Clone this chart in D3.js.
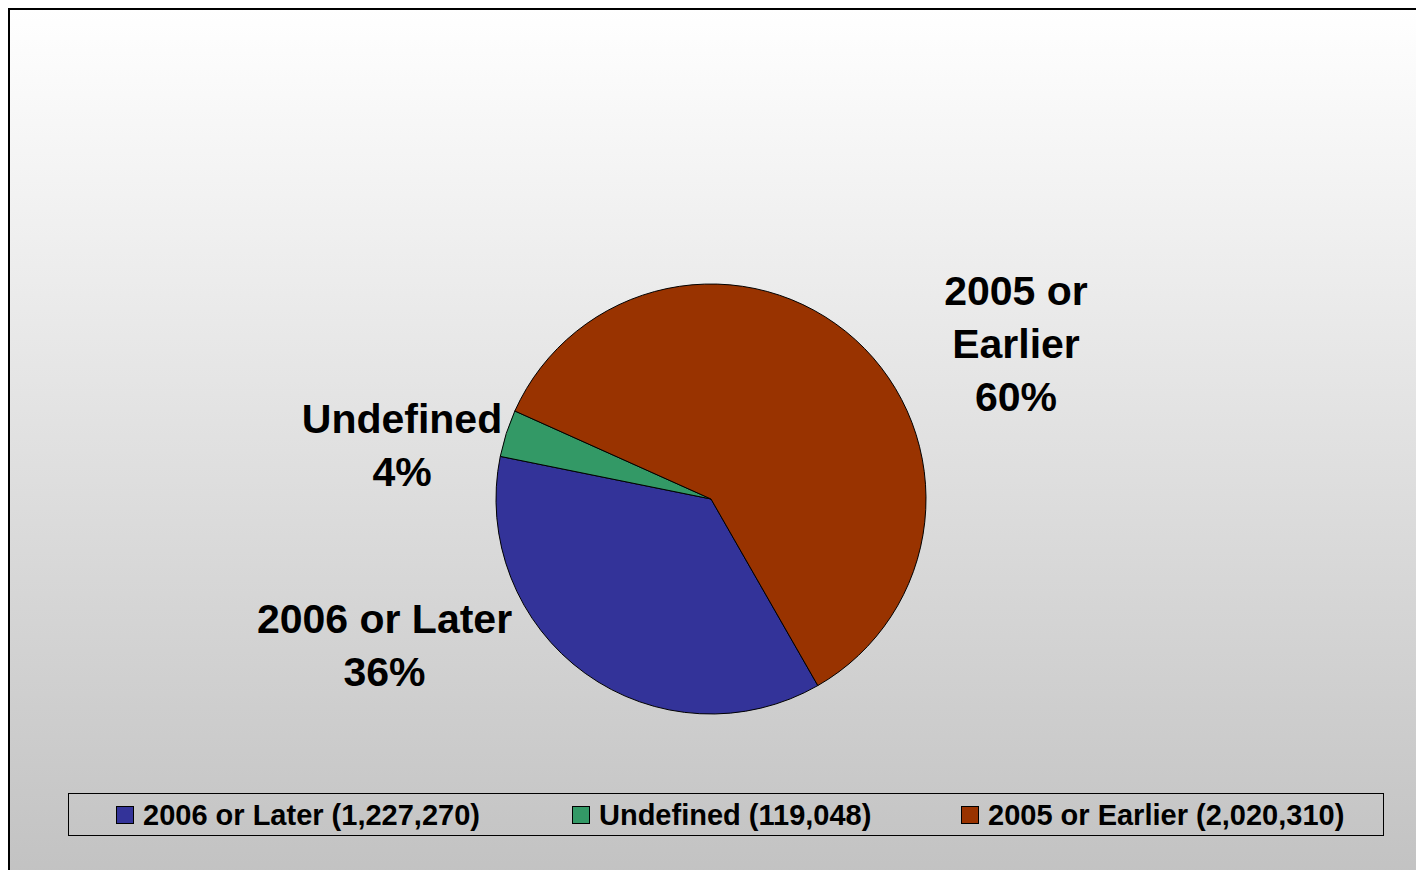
<!DOCTYPE html>
<html>
<head>
<meta charset="utf-8">
<script src="https://cdn.jsdelivr.net/npm/d3@7"></script>
<style>
  html, body { margin: 0; padding: 0; background: #ffffff; }
  svg { display: block; }
  text { font-family: "Liberation Sans", Arial, sans-serif; font-weight: bold; fill: #000; }
</style>
</head>
<body>
<svg id="chart" width="1416" height="870"></svg>
<script>
// ---- data ----
const categories = ["2006 or Later", "Undefined", "2005 or Earlier"];
const values = [1227270, 119048, 2020310];
const colors = ["#333399", "#339966", "#993300"];
const percentLabels = ["36%", "4%", "60%"];
const labelLines = [["2006 or Later"], ["Undefined"], ["2005 or", "Earlier"]];

// ---- layout ----
const W = 1416, H = 870;
const cx = 711, cy = 499, R = 215;
const startAngleDeg = 150.2;
// label centres relative to pie centre (first line baseline)
const labelPos = [
  { dx: 384.5 - cx, dy: 633 - cy },
  { dx: 402 - cx, dy: 433 - cy },
  { dx: 1016 - cx, dy: 305 - cy }
];
const lineH = 53;

const svg = d3.select("#chart");
const defs = svg.append("defs");
const grad = defs.append("linearGradient").attr("id", "bg")
  .attr("x1", 0).attr("y1", 0).attr("x2", 0).attr("y2", 1);
grad.append("stop").attr("offset", "0%").attr("stop-color", "#ffffff");
grad.append("stop").attr("offset", "100%").attr("stop-color", "#c2c2c2");

svg.append("rect").attr("x", 9).attr("y", 9).attr("width", W).attr("height", H)
  .attr("fill", "url(#bg)").attr("stroke", "#000").attr("stroke-width", 2);

const start = startAngleDeg * Math.PI / 180;
const pie = d3.pie().sort(null).value(d => d)
  .startAngle(start).endAngle(start + 2 * Math.PI);
const arcs = pie(values);
const arc = d3.arc().innerRadius(0).outerRadius(R);

const g = svg.append("g").attr("transform", `translate(${cx},${cy})`);
g.selectAll("path").data(arcs).enter().append("path")
  .attr("d", arc)
  .attr("fill", (d, i) => colors[i])
  .attr("stroke", "#000").attr("stroke-width", 1).attr("stroke-linejoin", "round");

// data labels
arcs.forEach((d, i) => {
  const t = g.append("text").attr("text-anchor", "middle").style("font-size", "41px");
  const lines = labelLines[i].concat([percentLabels[i]]);
  lines.forEach((ln, j) => {
    t.append("tspan").attr("x", labelPos[i].dx).attr("y", labelPos[i].dy + j * lineH).text(ln);
  });
});

// legend
const legendBox = { x: 68, y: 793, w: 1315, h: 42 };
svg.append("rect").attr("x", legendBox.x + 0.5).attr("y", legendBox.y + 0.5)
  .attr("width", legendBox.w).attr("height", legendBox.h)
  .attr("fill", "none").attr("stroke", "#000").attr("stroke-width", 1);
const legendX = [116, 572, 961];
const lg = svg.append("g");
categories.forEach((c, i) => {
  lg.append("rect").attr("x", legendX[i] + 0.5).attr("y", 806.5).attr("width", 17).attr("height", 17)
    .attr("fill", colors[i]).attr("stroke", "#000").attr("stroke-width", 1);
  lg.append("text").attr("x", legendX[i] + 27).attr("y", 825).style("font-size", "29px")
    .text(`${c} (${d3.format(",")(values[i])})`);
});
</script>
</body>
</html>
